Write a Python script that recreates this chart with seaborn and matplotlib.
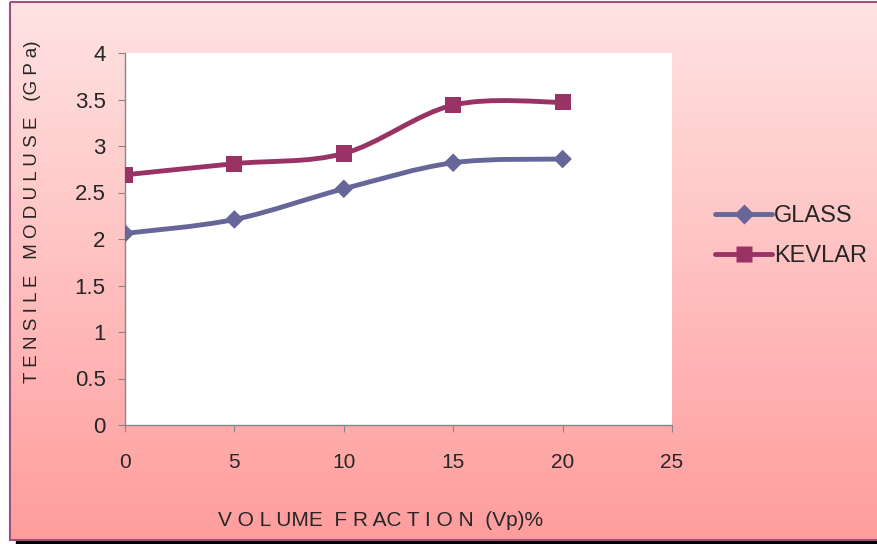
import numpy as np
import pandas as pd
import matplotlib
matplotlib.use("Agg")
import matplotlib.pyplot as plt
import seaborn as sns
from matplotlib.path import Path
from matplotlib.patches import PathPatch, Rectangle
from matplotlib.lines import Line2D

# data
volume_fraction = [0, 5, 10, 15, 20]
glass = [2.06, 2.21, 2.54, 2.82, 2.86]
kevlar = [2.69, 2.81, 2.92, 3.44, 3.47]
series_names = ["GLASS", "KEVLAR"]
x_ticks = [0, 5, 10, 15, 20, 25]
y_ticks = [0, 0.5, 1, 1.5, 2, 2.5, 3, 3.5, 4]

colors = {"GLASS": "#666699", "KEVLAR": "#993366"}
markers = {"GLASS": "D", "KEVLAR": "s"}
sizes = {"GLASS": 90, "KEVLAR": 135}

df = pd.DataFrame({
    "vf": volume_fraction * 2,
    "modulus": glass + kevlar,
    "series": ["GLASS"] * len(glass) + ["KEVLAR"] * len(kevlar),
})

sns.set_style("ticks")
plt.rcParams["font.family"] = ["Liberation Sans", "DejaVu Sans"]


def smooth_path(xs, ys):
    # excel style smoothed line: catmull-rom segments as cubic beziers
    pts = np.column_stack([xs, ys]).astype(float)
    verts = [pts[0]]
    codes = [Path.MOVETO]
    n = len(pts)
    for i in range(n - 1):
        p0 = pts[max(i - 1, 0)]
        p1 = pts[i]
        p2 = pts[i + 1]
        p3 = pts[min(i + 2, n - 1)]
        verts += [p1 + (p2 - p0) / 6, p2 - (p3 - p1) / 6, p2]
        codes += [Path.CURVE4] * 3
    return Path(verts, codes)


fig = plt.figure(figsize=(8.78, 5.44), dpi=100)

# background frame with pink gradient
bg = fig.add_axes([0, 0, 1, 1], zorder=-5)
bg.set_xlim(0, 878)
bg.set_ylim(544, 0)
bg.axis("off")
grad = np.linspace(0, 1, 256).reshape(-1, 1)
cmap = matplotlib.colors.LinearSegmentedColormap.from_list("pinks", ["#ffe3e3", "#ff9d9d"])
bg.imshow(grad, cmap=cmap, aspect="auto", extent=[10.5, 880, 539.5, 1.5], zorder=0)
bg.add_patch(Rectangle((16, 539.5), 870, 8, color="black", zorder=0.5))
bg.add_patch(Rectangle((10.5, 1.5), 870, 538, fill=False, edgecolor="#a0507a", lw=1.5, zorder=1))

ax = fig.add_axes([125 / 878, 1 - 425 / 544, 547 / 878, 372 / 544])
ax.set_facecolor("white")

for name in series_names:
    sub = df[df["series"] == name]
    ax.add_patch(PathPatch(smooth_path(sub["vf"], sub["modulus"]), fill=False,
                           edgecolor=colors[name], lw=3.5, capstyle="round", zorder=2))

sns.scatterplot(data=df, x="vf", y="modulus", hue="series", style="series",
                palette=colors, markers=markers, size="series", sizes=sizes,
                edgecolor="none", legend=False, ax=ax, zorder=3)

ax.set_xlim(0, 25)
ax.set_ylim(0, 4)
ax.set_xticks(x_ticks)
ax.set_yticks(y_ticks)
ax.set_yticklabels([f"{v:g}" for v in y_ticks], fontsize=16)
ax.set_xticklabels([str(v) for v in x_ticks], fontsize=15)
ax.tick_params(axis="x", length=5, color="#868686", pad=15)
ax.tick_params(axis="y", length=5, color="#868686", pad=9)
ax.set_xlabel("")
ax.set_ylabel("")
for side in ["top", "right"]:
    ax.spines[side].set_visible(False)
for side in ["left", "bottom"]:
    ax.spines[side].set_color("#868686")
    ax.spines[side].set_linewidth(1)

fig.text(381 / 878, 1 - 520 / 544, "V O L UME  F R AC T I O N  (Vp)%", ha="center", va="center",
         fontsize=15)
fig.text(33 / 878, 1 - 212 / 544, "T E N S I L E   M O D U L U S E   (G P a)", ha="center",
         va="center", rotation=90, fontsize=13.5)

handles = [Line2D([], [], color=colors[n], lw=3.5, marker=markers[n],
                  markersize=10 if n == "GLASS" else 12, markeredgecolor="none")
           for n in series_names]
fig.legend(handles, series_names, loc="center left", bbox_to_anchor=(694 / 878, 1 - 236 / 544),
           frameon=False, fontsize=17, handlelength=2.4, handletextpad=0.1, labelspacing=0.75)

fig.savefig("out.png", dpi=100)
